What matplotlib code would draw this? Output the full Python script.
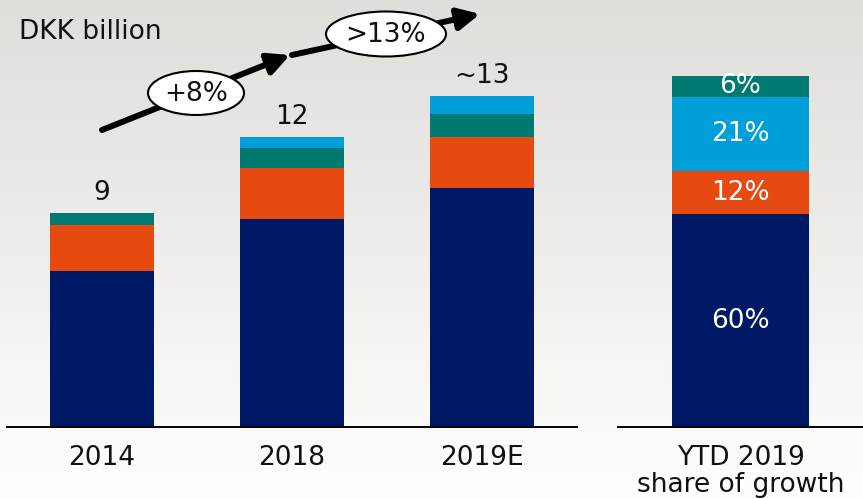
import numpy as np
import matplotlib.pyplot as plt
from matplotlib.patches import Ellipse, FancyArrowPatch

# data (DKK billion)
years = ["2014", "2018", "2019E"]
navy = [6.56, 8.74, 10.04]
orange = [1.93, 2.14, 2.14]
teal = [0.50, 0.84, 0.97]
cyan = [0.00, 0.46, 0.76]
totals_lbl = ["9", "12", "~13"]

share_lbl = "YTD 2019\nshare of growth"
share = [60, 12, 21, 6]  # navy, orange, cyan, teal

c_navy = "#001965"
c_orange = "#e64a10"
c_teal = "#007a70"
c_cyan = "#009fda"

W, H = 863, 499
fs = 19
fig = plt.figure(figsize=(W / 100, H / 100), dpi=100)

# background gradient
bg = fig.add_axes([0, 0, 1, 1], zorder=-5)
t = np.linspace(0, 1, 256)[:, None]
top = np.array([0.878, 0.872, 0.855])
grad = top + (1 - top) * t[..., None] ** 1.1
grad = np.repeat(grad, 2, axis=1)
bg.imshow(grad, aspect="auto", extent=[0, 1, 0, 1])
bg.axis("off")

base = (H - 427) / H
hgt = 427 / H

ax1 = fig.add_axes([7 / W, base, 570 / W, hgt])
ax2 = fig.add_axes([618 / W, base, 245 / W, hgt])

x = np.arange(len(years))
bw = 0.55
b = np.zeros(len(years))
for vals, col in [(navy, c_navy), (orange, c_orange), (teal, c_teal), (cyan, c_cyan)]:
    ax1.bar(x, vals, bw, bottom=b, color=col, edgecolor="none")
    b = b + np.array(vals)
for xi, tot, lbl in zip(x, b, totals_lbl):
    ax1.text(xi, tot + 0.84, lbl, ha="center", va="center", fontsize=fs, color="#111111")
ax1.set_xlim(-0.5, 2.5)
ax1.set_ylim(0, 427 / 23.8)
ax1.set_xticks(x)
ax1.set_xticklabels(years)

# share of growth bar
sb = 0
bw2 = 0.563
cols2 = [c_navy, c_orange, c_cyan, c_teal]
for v, col in zip(share, cols2):
    ax2.bar(0, v, bw2, bottom=sb, color=col, edgecolor="none")
    ax2.text(0, sb + v / 2, f"{v}%", ha="center", va="center", fontsize=fs, color="white")
    sb += v
ax2.set_xlim(-0.5, 0.5)
ax2.set_ylim(0, 427 / 3.55)
ax2.set_xticks([0])
ax2.set_xticklabels([share_lbl], linespacing=1.05)

for ax in (ax1, ax2):
    ax.set_facecolor("none")
    for s in ("top", "left", "right"):
        ax.spines[s].set_visible(False)
    ax.spines["bottom"].set_linewidth(1.4)
    ax.set_yticks([])
    ax.tick_params(axis="x", length=0, pad=13, labelsize=fs, labelcolor="#111111")

# annotation overlay in pixel coords
ov = fig.add_axes([0, 0, 1, 1], zorder=5)
ov.set_xlim(0, W)
ov.set_ylim(H, 0)
ov.axis("off")
ov.text(19, 32, "DKK billion", fontsize=fs, va="center", ha="left", color="#111111")

for (x0, y0, x1, y1) in [(102, 130, 290, 55), (292, 55, 480, 14)]:
    ov.add_patch(FancyArrowPatch((x0, y0), (x1, y1), arrowstyle="-|>,head_length=13,head_width=6.5",
                                 mutation_scale=1, lw=4.3, color="black", shrinkA=0, shrinkB=0))

for (cx, cy, ew, eh, lbl) in [(196, 93, 96, 44, "+8%"), (386, 34, 120, 45, ">13%")]:
    ov.add_patch(Ellipse((cx, cy), ew, eh, facecolor="white", edgecolor="black", lw=1.5, zorder=6))
    ov.text(cx, cy + 1, lbl, ha="center", va="center", fontsize=fs, color="#111111", zorder=7)

fig.savefig("out.png", dpi=100)
